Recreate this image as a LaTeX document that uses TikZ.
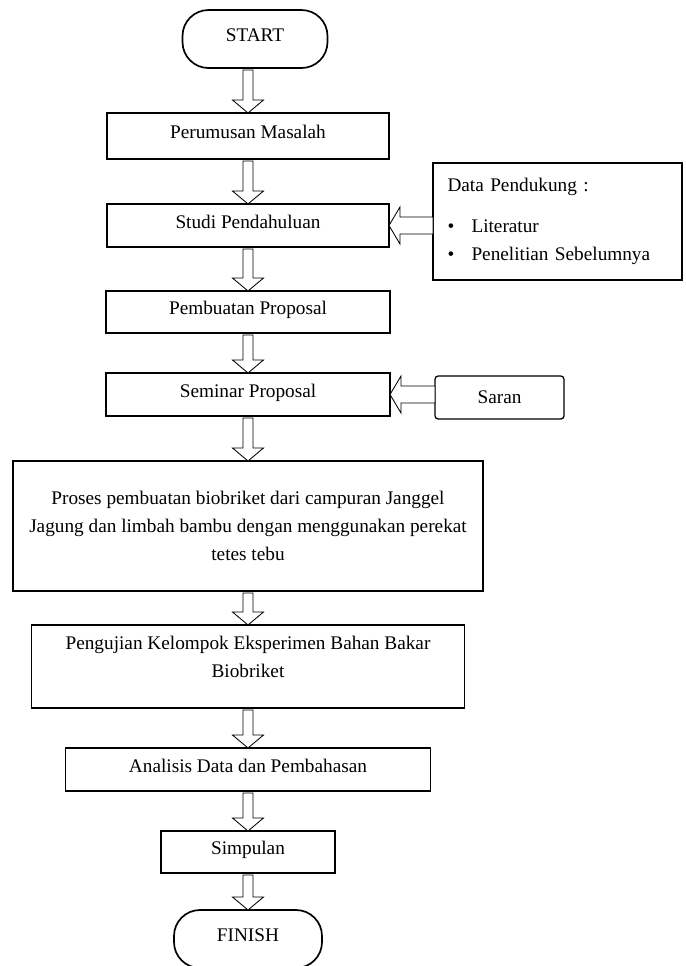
\documentclass[tikz,border=0pt]{standalone}
\usepackage{fontspec}
\setmainfont{Liberation Serif}
\usetikzlibrary{positioning,calc}

\tikzset{
  stepbox/.style={draw, line width=1.2pt, align=center, inner sep=2pt, outer sep=0pt},
  linebox/.style={stepbox, text height=0.33cm, text depth=0.19cm},
  terminal/.style={linebox, rounded corners=0.65cm,
    minimum width=3.625cm, minimum height=1.45cm},
  sidebox/.style={draw, line width=0.9pt, outer sep=0pt},
  blockarrow/.style={draw, line width=0.6pt, fill=white}
}

% hollow block arrow going down from #1 to #2
\newcommand{\flow}[2]{%
  \draw[blockarrow, xshift=0.1cm] ($(#1.south -| #2.north)+(-0.125,-0.05)$)
    -- ($(#2.north)+(-0.125,0.325)$) -- ++(-0.2625,0) -- (#2.north)
    -- ($(#2.north)+(0.3875,0.325)$) -- ++(-0.2625,0)
    -- ($(#1.south -| #2.north)+(0.125,-0.05)$) -- cycle;}
% hollow block arrow going left from #1 to #2
\newcommand{\flowin}[2]{%
  \draw[blockarrow] ($(#2.east -| #1.west)+(0,0.2125)$)
    -- ($(#2.east)+(0.275,0.2125)$) -- ++(0,0.25) -- (#2.east)
    -- ($(#2.east)+(0.275,-0.4625)$) -- ++(0,0.25)
    -- ($(#2.east -| #1.west)+(0,-0.2125)$) -- cycle;}

\begin{document}
\begin{tikzpicture}[font=\fontsize{13.7pt}{19.9pt}\selectfont]
  \useasboundingbox (0,0) rectangle (17.15,-24.15);

  % Define nodes
  \node[terminal] (start) at (6.375,-0.975) {START};
  \node[linebox, minimum width=7.05cm, minimum height=1.15cm,
    below=1.125cm of start, xshift=-0.175cm] (masalah) {Perumusan Masalah};
  \node[linebox, minimum width=7.05cm, minimum height=1.075cm,
    below=1.125cm of masalah] (studi) {Studi Pendahuluan};
  \node[linebox, minimum width=7.1cm, minimum height=1.05cm,
    below=1.1cm of studi] (proposal) {Pembuatan Proposal};
  \node[linebox, minimum width=7.1cm, minimum height=1.075cm,
    below=1cm of proposal] (seminar) {Seminar Proposal};
  \node[stepbox, minimum width=11.75cm, minimum height=3.25cm,
    below=1.125cm of seminar] (proses)
    {Proses pembuatan biobriket dari campuran Janggel\\
     Jagung dan limbah bambu dengan menggunakan perekat\\
     tetes tebu};
  \node[stepbox, minimum width=10.825cm, minimum height=2.075cm,
    text depth=0.5cm, below=0.85cm of proses] (uji)
    {Pengujian Kelompok Eksperimen Bahan Bakar\\Biobriket};
  \node[linebox, minimum width=9.125cm, minimum height=1.075cm,
    below=1cm of uji] (analisis) {Analisis Data dan Pembahasan};
  \node[linebox, minimum width=4.35cm, minimum height=1.05cm,
    below=1cm of analisis] (simpulan) {Simpulan};
  \node[terminal, minimum width=3.7cm, below=0.925cm of simpulan] (finish) {FINISH};

  \node[sidebox, minimum width=6.225cm, minimum height=2.925cm,
    align=left, text width=5.5cm, right=1.1cm of studi, yshift=0.1cm] (data)
    {Data Pendukung :\\[0.33cm]
     \makebox[0.6cm][l]{\textbullet}Literatur\\
     \makebox[0.6cm][l]{\textbullet}Penelitian Sebelumnya};
  \node[sidebox, rounded corners=0.08cm, minimum width=3.225cm,
    minimum height=1.075cm, right=1.125cm of seminar, yshift=-0.075cm] (saran) {Saran};

  % Connect the nodes
  \flow{start}{masalah}
  \flow{masalah}{studi}
  \flow{studi}{proposal}
  \flow{proposal}{seminar}
  \flow{seminar}{proses}
  \flow{proses}{uji}
  \flow{uji}{analisis}
  \flow{analisis}{simpulan}
  \flow{simpulan}{finish}
  \flowin{data}{studi}
  \flowin{saran}{seminar}
\end{tikzpicture}
\end{document}
